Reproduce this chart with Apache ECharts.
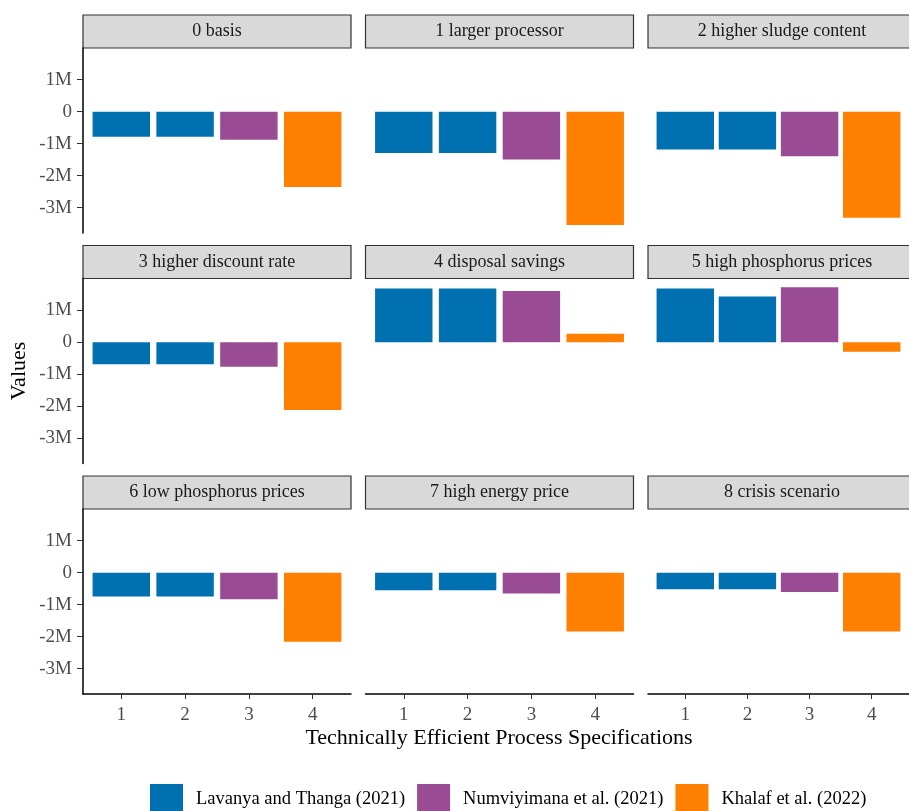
<!DOCTYPE html>
<html>
<head>
<meta charset="utf-8">
<script src="https://cdn.jsdelivr.net/npm/echarts@6/dist/echarts.min.js"></script>
<style>
  html, body { margin: 0; padding: 0; background: #fff; }
  #chart { width: 909px; height: 811px; }
</style>
</head>
<body>
<div id="chart"></div>
<script>
const panelNames = [
  '0 basis', '1 larger processor', '2 higher sludge content',
  '3 higher discount rate', '4 disposal savings', '5 high phosphorus prices',
  '6 low phosphorus prices', '7 high energy price', '8 crisis scenario'
];
const specs = [1, 2, 3, 4];
// values per panel, spec 1 and 2 = Lavanya, 3 = Numviyimana, 4 = Khalaf
const spec1 = [-780000, -1290000, -1180000, -690000, 1680000, 1680000, -740000, -550000, -520000];
const spec2 = [-780000, -1290000, -1180000, -690000, 1680000, 1430000, -740000, -550000, -520000];
const spec3 = [-880000, -1490000, -1390000, -770000, 1600000, 1720000, -830000, -650000, -600000];
const spec4 = [-2350000, -3540000, -3310000, -2120000, 260000, -300000, -2160000, -1840000, -1840000];
const yTicks = [-3000000, -2000000, -1000000, 0, 1000000];
const seriesNames = ['Lavanya and Thanga (2021)', 'Numviyimana et al. (2021)', 'Khalaf et al. (2022)'];
const colors = ['#0070B0', '#994C93', '#FF7F00'];

const FONT = '"Liberation Serif", "Times New Roman", serif';
const colLeft = [83, 365.5, 648];
const stripTop = [15, 245.5, 476];
const panelW = 268;
const stripH = 33;
const plotH = 185;
const barW = 0.9 * panelW / 4.2;

const chart = echarts.init(document.getElementById('chart'));

const grids = [], xAxes = [], yAxes = [], series = [], graphics = [];

panelNames.forEach((name, i) => {
  const row = Math.floor(i / 3);
  const col = i % 3;
  const left = colLeft[col];
  const top = stripTop[row] + stripH;

  grids.push({ left: left, top: top, width: panelW, height: plotH });

  xAxes.push({
    type: 'value',
    gridIndex: i,
    min: 0.4,
    max: 4.6,
    axisLine: { show: row === 2, onZero: false, lineStyle: { color: '#000', width: 1.5 } },
    axisTick: { show: row === 2, customValues: specs, length: 5, lineStyle: { color: '#333', width: 1 } },
    axisLabel: { show: row === 2, customValues: specs, margin: 12, fontSize: 19, fontFamily: FONT, color: '#4d4d4d' },
    splitLine: { show: false }
  });

  yAxes.push({
    type: 'value',
    gridIndex: i,
    min: -3790000,
    max: 1990000,
    axisLine: { show: col === 0, onZero: false, lineStyle: { color: '#000', width: 1.5 } },
    axisTick: { show: col === 0, customValues: yTicks, length: 6, lineStyle: { color: '#333', width: 1 } },
    axisLabel: {
      show: col === 0,
      customValues: yTicks,
      margin: 11,
      fontSize: 19,
      fontFamily: FONT,
      color: '#4d4d4d',
      formatter: v => v === 0 ? '0' : (v / 1000000) + 'M'
    },
    splitLine: { show: false }
  });

  const groups = [
    [[1, spec1[i]], [2, spec2[i]]],
    [[3, spec3[i]]],
    [[4, spec4[i]]]
  ];
  groups.forEach((data, k) => {
    series.push({
      type: 'bar',
      name: seriesNames[k],
      xAxisIndex: i,
      yAxisIndex: i,
      data: data,
      barWidth: barW,
      barGap: '-100%',
      itemStyle: { color: colors[k] },
      silent: true
    });
  });

  // facet strip
  graphics.push({
    type: 'rect',
    shape: { x: left, y: stripTop[row], width: panelW, height: stripH },
    style: { fill: '#d9d9d9', stroke: '#333', lineWidth: 1.2 }
  });
  graphics.push({
    type: 'text',
    x: left + panelW / 2,
    y: stripTop[row] + stripH / 2,
    style: { text: name, align: 'center', verticalAlign: 'middle', font: '18px ' + FONT, fill: '#1a1a1a' }
  });
});

graphics.push({
  type: 'text',
  x: 19,
  y: 371,
  rotation: Math.PI / 2,
  style: { text: 'Values', align: 'center', verticalAlign: 'middle', font: '22px ' + FONT, fill: '#000' }
});
graphics.push({
  type: 'text',
  x: 499,
  y: 738,
  style: { text: 'Technically Efficient Process Specifications', align: 'center', verticalAlign: 'middle', font: '22px ' + FONT, fill: '#000' }
});

const option = {
  animation: false,
  backgroundColor: '#fff',
  grid: grids,
  xAxis: xAxes,
  yAxis: yAxes,
  series: series,
  graphic: graphics,
  legend: {
    data: seriesNames,
    left: 150,
    top: 784,
    padding: 0,
    icon: 'rect',
    itemWidth: 33,
    itemHeight: 30,
    itemGap: 12,
    selectedMode: false,
    textStyle: { fontSize: 18.5, fontFamily: FONT, color: '#000', padding: [0, 0, 0, 8] }
  }
};

chart.setOption(option);
</script>
</body>
</html>
